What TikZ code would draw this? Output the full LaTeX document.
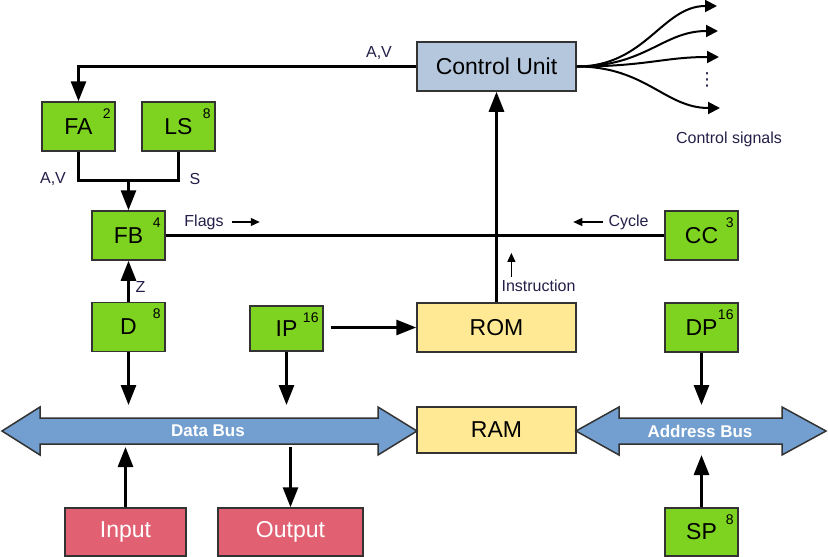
\documentclass[tikz,border=0pt]{standalone}
\usepackage{fontspec}
\setmainfont{Liberation Sans}
\newfontfamily\symfont{DejaVu Sans}
\usetikzlibrary{arrows.meta}

\definecolor{regfill}{HTML}{7ED321}
\definecolor{cufill}{HTML}{B4C7DC}
\definecolor{memfill}{HTML}{FFE994}
\definecolor{iofill}{HTML}{E16173}
\definecolor{busfill}{HTML}{729FCF}
\definecolor{txtc}{HTML}{231F48}
\definecolor{edgec}{HTML}{333333}

\begin{document}
\begin{tikzpicture}[x=1pt, y=-1pt,
    reg/.style={draw=edgec, line width=1.5pt, fill=regfill, minimum width=73pt,
      minimum height=49pt, inner sep=0pt, font=\fontsize{23}{27}\selectfont},
    mem/.style={reg, fill=memfill, minimum width=159pt},
    io/.style={reg, fill=iofill, text=white, minimum height=48pt},
    bits/.style={anchor=north east, inner xsep=5pt, inner ysep=7pt,
      font=\fontsize{14}{16}\selectfont},
    lbl/.style={text=txtc, inner sep=0pt, font=\fontsize{16}{18}\selectfont},
    bus/.style={draw=edgec, line width=1.5pt, fill=busfill, line join=miter},
    buslbl/.style={text=white, inner sep=0pt, font=\bfseries\fontsize{17}{19}\selectfont},
    wire/.style={line width=3pt},
    link/.style={wire, -{Triangle[length=20pt,width=15pt]}},
    sig/.style={line width=2pt, -{Triangle[length=12pt,width=12pt]}},
    hint/.style={line width=1.2pt, -{Triangle[length=9pt,width=8pt]}}]
  \useasboundingbox (0,0) rectangle (828,557);

  % blocks
  \node[mem, fill=cufill] (cu) at (496.5,66.5) {Control Unit};
  \node[reg, label={[bits]north east:2}] (fa) at (78.5,126.5) {FA};
  \node[reg, label={[bits]north east:8}] (ls) at (178.5,126.5) {LS};
  \node[reg, label={[bits]north east:4}] (fb) at (128.5,235.5) {FB};
  \node[reg, label={[bits]north east:3}] (cc) at (701.5,235.5) {CC};
  \node[reg, label={[bits]north east:8}] (d) at (128.5,327) {D};
  \node[reg, minimum height=45pt, label={[bits]north east:16}] (ip) at (286.5,328.5) {IP};
  \node[mem] (rom) at (496.5,327.5) {ROM};
  \node[reg, label={[bits]north east:16}] (dp) at (701.5,327.5) {DP};
  \node[mem, minimum height=46pt] (ram) at (496.5,430) {RAM};
  \node[io, minimum width=121pt] (inp) at (125.5,532) {Input};
  \node[io, minimum width=145pt] (outp) at (290.5,532) {Output};
  \node[reg, minimum height=48pt, label={[bits]north east:8}] (sp) at (701.5,532) {SP};

  % buses
  \draw[bus] (2,431) -- (40,407) -- (40,418) -- (378,418) -- (378,407) -- (417,431)
    -- (378,455) -- (378,444) -- (40,444) -- (40,455) -- cycle;
  \draw[bus] (576,431) -- (619,407) -- (619,418) -- (782,418) -- (782,407) -- (826,431)
    -- (782,455) -- (782,444) -- (619,444) -- (619,455) -- cycle;
  \node[buslbl] (databus) at (208,431) {Data Bus};
  \node[buslbl] (addrbus) at (700,431) {Address Bus};
  \coordinate (bustop) at (0,405);
  \coordinate (busbot) at (0,447);
  \coordinate (headbot) at (0,455);

  % control paths
  \draw[link] (cu.west) -| (fa.north);
  \node[lbl] (avcu) at (379,53) {A,V};
  \coordinate (join) at (128.5,180);
  \draw[wire] (fa.south) |- (join) -| (ls.south);
  \draw[link] (join) -- (fb.north);
  \node[lbl] (avfa) at (53,179) {A,V};
  \node[lbl] (sls) at (195,179) {S};
  \draw[wire] (fb.east) -- (cc.west);
  \node[lbl] (flags) at (204,222) {Flags};
  \draw[hint] (flags.east) ++(8,0) -- ++(28,0);
  \node[lbl] (cycle) at (628.5,222) {Cycle};
  \draw[hint] (cycle.west) ++(-5,0) -- ++(-30,0);
  \draw[link] (rom.north) -- (cu.south);
  \node[lbl] (instr) at (538.5,286) {Instruction};
  \draw[hint] (instr.north west) ++(10,-3) -- ++(0,-24);
  \draw[link] (d.north) -- (fb.south);
  \node[lbl] (zflag) at (140.5,287) {Z};
  \draw[link] ([xshift=7pt]ip.east |- rom.west) -- (rom.west);

  % bus connections
  \draw[link] (d.south) -- (d.south |- bustop);
  \draw[link] (ip.south) -- (ip.south |- bustop);
  \draw[link] (inp.north) -- (inp.north |- busbot);
  \draw[link] (outp.north |- busbot) -- (outp.north);
  \draw[link] (dp.south) -- (dp.south |- bustop);
  \draw[link] (sp.north) -- (sp.north |- headbot);

  % control signals
  \coordinate (s1) at (717,6);
  \coordinate (s2) at (718,31);
  \coordinate (s3) at (719,57);
  \coordinate (s4) at (720,108);
  \foreach \s in {s1,s2,s3,s4}
    \draw[sig] (cu.east) .. controls +(69,0) and +(-55,0) .. (\s);
  \node[text=txtc, inner sep=0pt, font=\symfont\fontsize{18}{20}\selectfont] (dots) at (707,80) {⋮};
  \node[lbl] (ctrlsig) at (729,139) {Control signals};
\end{tikzpicture}
\end{document}
